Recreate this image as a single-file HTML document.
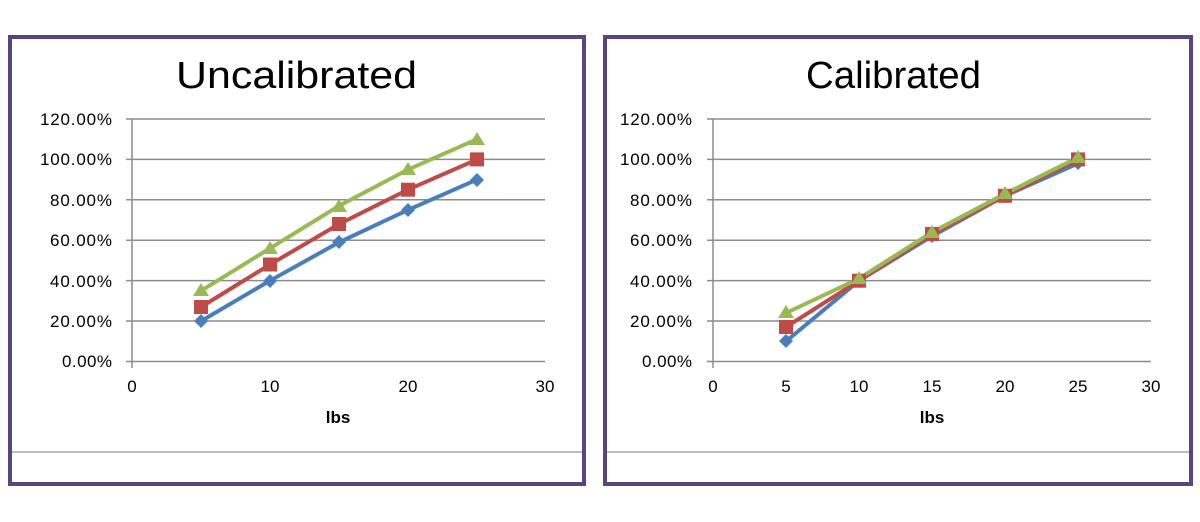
<!DOCTYPE html>
<html><head><meta charset="utf-8"><style>
body{margin:0;background:#fff;}
svg{display:block;font-family:"Liberation Sans",sans-serif;}
</style></head><body>
<svg width="1200" height="522" viewBox="0 0 1200 522">
<rect x="10" y="37" width="574" height="447" fill="none" stroke="#58457f" stroke-width="4"/>
<rect x="605" y="37" width="586" height="447" fill="none" stroke="#58457f" stroke-width="4"/>
<line x1="12" y1="452" x2="582" y2="452" stroke="#a6a6a6" stroke-width="1.5"/>
<line x1="607" y1="452" x2="1189" y2="452" stroke="#a6a6a6" stroke-width="1.5"/>
<text x="176" y="88" font-size="38" textLength="241" lengthAdjust="spacingAndGlyphs">Uncalibrated</text>
<text x="806" y="88" font-size="38" textLength="175" lengthAdjust="spacingAndGlyphs">Calibrated</text>

<g stroke="#8c8c8c" stroke-width="1.5">
<line x1="126" y1="119" x2="545" y2="119"/><line x1="126" y1="159.4" x2="545" y2="159.4"/>
<line x1="126" y1="199.8" x2="545" y2="199.8"/><line x1="126" y1="240.2" x2="545" y2="240.2"/>
<line x1="126" y1="280.6" x2="545" y2="280.6"/><line x1="126" y1="321" x2="545" y2="321"/>
<line x1="126" y1="361.5" x2="545" y2="361.5"/>
<line x1="132" y1="119" x2="132" y2="368"/>
</g>
<g font-size="17" lengthAdjust="spacingAndGlyphs">
<text x="40" y="125" textLength="72">120.00%</text><text x="40" y="165" textLength="72">100.00%</text><text x="50" y="206" textLength="62">80.00%</text>
<text x="50" y="246" textLength="62">60.00%</text><text x="50" y="287" textLength="62">40.00%</text><text x="50" y="327" textLength="62">20.00%</text><text x="62" y="367" textLength="50">0.00%</text>
</g>
<g font-size="17" text-anchor="middle">
<text x="132" y="392">0</text><text x="270" y="392">10</text><text x="408" y="392">20</text><text x="545" y="392">30</text>
<text x="338" y="423" font-weight="bold">lbs</text>
</g>
<polyline points="201,321.1 270,280.7 339,242.3 408,209.9 477,179.6" fill="none" stroke="#4a7ebb" stroke-width="4"/>
<polyline points="201,307 270,264.5 339,224.1 408,189.7 477,159.4" fill="none" stroke="#be4b48" stroke-width="4"/>
<polyline points="201,290.8 270,248.3 339,205.9 408,169.5 477,139.2" fill="none" stroke="#98b954" stroke-width="4"/>
<g fill="#4a7ebb"><path d="M201,314l7,7l-7,7l-7,-7z"/><path d="M270,274l7,7l-7,7l-7,-7z"/><path d="M339,235l7,7l-7,7l-7,-7z"/><path d="M408,203l7,7l-7,7l-7,-7z"/><path d="M477,173l7,7l-7,7l-7,-7z"/></g>
<g fill="#be4b48"><rect x="194" y="300" width="14" height="14"/><rect x="263" y="257.5" width="14" height="14"/><rect x="332" y="217" width="14" height="14"/><rect x="401" y="182.7" width="14" height="14"/><rect x="470" y="152.4" width="14" height="14"/></g>
<g fill="#98b954"><path d="M201,283l8,13h-16z"/><path d="M270,241l8,13h-16z"/><path d="M339,199l8,13h-16z"/><path d="M408,162l8,13h-16z"/><path d="M477,132l8,13h-16z"/></g>

<g stroke="#8c8c8c" stroke-width="1.5">
<line x1="707" y1="119" x2="1151" y2="119"/><line x1="707" y1="159.4" x2="1151" y2="159.4"/>
<line x1="707" y1="199.8" x2="1151" y2="199.8"/><line x1="707" y1="240.2" x2="1151" y2="240.2"/>
<line x1="707" y1="280.6" x2="1151" y2="280.6"/><line x1="707" y1="321" x2="1151" y2="321"/>
<line x1="707" y1="361.5" x2="1151" y2="361.5"/>
<line x1="713" y1="119" x2="713" y2="368"/>
</g>
<g font-size="17" lengthAdjust="spacingAndGlyphs">
<text x="620" y="125" textLength="72">120.00%</text><text x="620" y="165" textLength="72">100.00%</text><text x="630" y="206" textLength="62">80.00%</text>
<text x="630" y="246" textLength="62">60.00%</text><text x="630" y="287" textLength="62">40.00%</text><text x="630" y="327" textLength="62">20.00%</text><text x="642" y="367" textLength="50">0.00%</text>
</g>
<g font-size="17" text-anchor="middle">
<text x="713" y="392">0</text><text x="786" y="392">5</text><text x="859" y="392">10</text><text x="932" y="392">15</text>
<text x="1005" y="392">20</text><text x="1078" y="392">25</text><text x="1151" y="392">30</text>
<text x="932" y="423" font-weight="bold">lbs</text>
</g>
<polyline points="786,341.3 859,280.7 932,236.2 1005,195.8 1078,163.4" fill="none" stroke="#4a7ebb" stroke-width="4"/>
<polyline points="786,327.1 859,280.7 932,234.2 1005,195.8 1078,159.4" fill="none" stroke="#be4b48" stroke-width="4"/>
<polyline points="786,313 859,278.6 932,232.2 1005,193.8 1078,157.4" fill="none" stroke="#98b954" stroke-width="4"/>
<g fill="#4a7ebb"><path d="M786,334l7,7l-7,7l-7,-7z"/><path d="M859,274l7,7l-7,7l-7,-7z"/><path d="M932,229l7,7l-7,7l-7,-7z"/><path d="M1005,189l7,7l-7,7l-7,-7z"/><path d="M1078,156l7,7l-7,7l-7,-7z"/></g>
<g fill="#be4b48"><rect x="779" y="320" width="14" height="14"/><rect x="852" y="273.7" width="14" height="14"/><rect x="925" y="227" width="14" height="14"/><rect x="998" y="188.8" width="14" height="14"/><rect x="1071" y="152.4" width="14" height="14"/></g>
<g fill="#98b954"><path d="M786,305l8,13h-16z"/><path d="M859,271l8,13h-16z"/><path d="M932,225l8,13h-16z"/><path d="M1005,186l8,13h-16z"/><path d="M1078,150l8,13h-16z"/></g>
</svg>
</body></html>
